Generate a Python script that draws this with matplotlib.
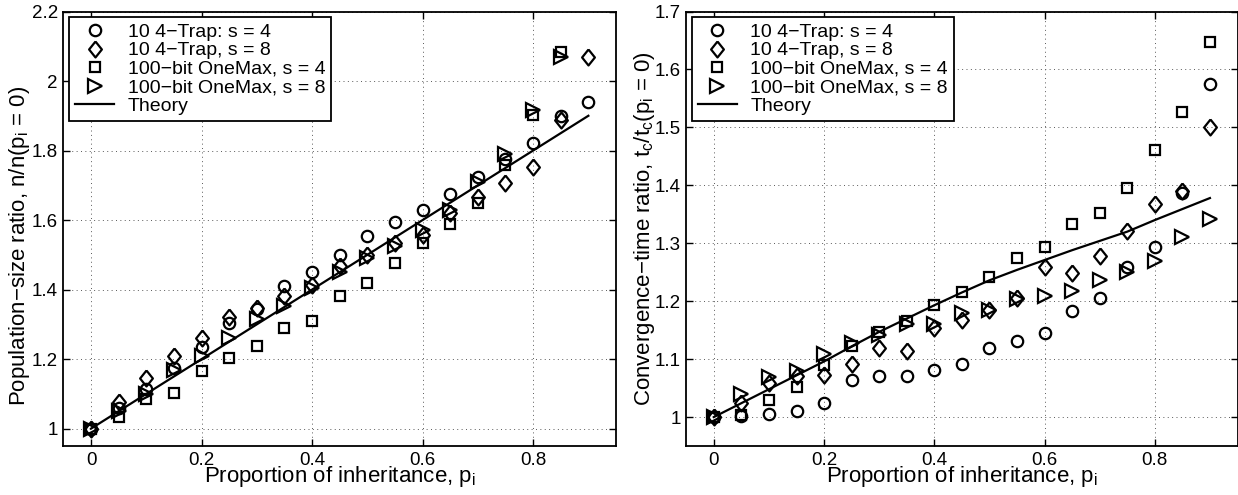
import numpy as np
import matplotlib
matplotlib.use("Agg")
import matplotlib.pyplot as plt
from matplotlib.ticker import FuncFormatter

plt.rcParams['font.family'] = ['Liberation Sans', 'DejaVu Sans']
plt.rcParams['mathtext.default'] = 'regular'

# proportion of inheritance
p_all = [0, 0.05, 0.1, 0.15, 0.2, 0.25, 0.3, 0.35, 0.4, 0.45,
         0.5, 0.55, 0.6, 0.65, 0.7, 0.75, 0.8, 0.85, 0.9]
p_short = p_all[:-1]

# left: population-size ratio
pop_trap4 = [1.0, 1.06, 1.114, 1.174, 1.236, 1.303, 1.343, 1.411, 1.452, 1.5,
             1.554, 1.595, 1.63, 1.675, 1.723, 1.775, 1.823, 1.899, 1.94]
pop_trap8 = [1.0, 1.077, 1.145, 1.208, 1.26, 1.322, 1.346, 1.381, 1.414, 1.467,
             1.5, 1.533, 1.557, 1.62, 1.667, 1.707, 1.754, 1.888, 2.069]
pop_onemax4 = [1.0, 1.034, 1.086, 1.103, 1.165, 1.203, 1.238, 1.29, 1.31, 1.381,
               1.419, 1.476, 1.533, 1.59, 1.65, 1.759, 1.902, 2.083]
pop_onemax8 = [1.0, 1.05, 1.10, 1.17, 1.21, 1.262, 1.316, 1.352, 1.405, 1.452,
               1.49, 1.526, 1.57, 1.63, 1.71, 1.79, 1.916, 2.07]
pop_theory = [1.0, 1.05, 1.1, 1.15, 1.2, 1.25, 1.3, 1.35, 1.4, 1.45,
              1.5, 1.55, 1.6, 1.65, 1.7, 1.75, 1.8, 1.85, 1.9]

# right: convergence-time ratio
tc_trap4 = [1.0, 1.002, 1.006, 1.011, 1.024, 1.064, 1.07, 1.07, 1.081, 1.092,
            1.119, 1.132, 1.145, 1.183, 1.206, 1.259, 1.294, 1.386, 1.575]
tc_trap8 = [1.0, 1.024, 1.058, 1.07, 1.073, 1.091, 1.12, 1.114, 1.154, 1.168,
            1.184, 1.206, 1.259, 1.248, 1.278, 1.321, 1.367, 1.391, 1.501]
tc_onemax4 = [1.0, 1.003, 1.03, 1.051, 1.09, 1.123, 1.146, 1.166, 1.194, 1.216,
              1.241, 1.275, 1.293, 1.334, 1.353, 1.396, 1.461, 1.526, 1.647]
tc_onemax8 = [1.0, 1.04, 1.069, 1.079, 1.108, 1.127, 1.142, 1.16, 1.161, 1.18,
              1.184, 1.204, 1.209, 1.218, 1.237, 1.25, 1.269, 1.311, 1.341]
tc_theory = [1.0, 1.024, 1.048, 1.072, 1.096, 1.122, 1.147, 1.17, 1.193, 1.215,
             1.236, 1.254, 1.271, 1.288, 1.304, 1.32, 1.34, 1.359, 1.378]

labels = ["10 4\u2212Trap: s = 4", "10 4\u2212Trap, s = 8",
          "100\u2212bit OneMax, s = 4", "100\u2212bit OneMax, s = 8", "Theory"]

# matlab style diamond (taller than wide)
diamond = [(0, 1), (0.8, 0), (0, -1), (-0.8, 0), (0, 1)]

W, H = 1238, 495
fig = plt.figure(figsize=(W / 100, H / 100), dpi=100)
ax1 = fig.add_axes([63.4 / W, 49 / H, 552.6 / W, 434.5 / H])
ax2 = fig.add_axes([686.3 / W, 49 / H, 551.2 / W, 434.5 / H])

mk = dict(linestyle='none', color='k', markerfacecolor='none', markeredgewidth=1.6)


def panel(ax, c4, d8, s4, t8, th, p_sq, ylim, yticks, ylabel):
    ax.plot(p_all, c4, marker='o', markersize=8.2, **mk)
    ax.plot(p_all, d8, marker=diamond, markersize=11.5, **mk)
    ax.plot(p_sq, s4, marker='s', markersize=7.2, **mk)
    ax.plot(p_sq, t8, marker='>', markersize=9.6, **mk)
    ax.plot(p_all, th, 'k-', linewidth=1.6)
    ax.set_xlim(-0.05, 0.95)
    ax.set_ylim(*ylim)
    ax.set_xticks([0, 0.2, 0.4, 0.6, 0.8])
    ax.set_yticks(yticks)
    ax.xaxis.set_major_formatter(FuncFormatter(lambda v, _: '%g' % v))
    ax.yaxis.set_major_formatter(FuncFormatter(lambda v, _: '%g' % round(v, 2)))
    ax.tick_params(direction='in', top=True, right=True, labelsize=13.5,
                   length=5, width=1, pad=4)
    ax.grid(True, color='0.35', linestyle=(0, (1, 3.5)), linewidth=0.7)
    for s in ax.spines.values():
        s.set_linewidth(1.3)
    ax.set_xlabel("Proportion of inheritance, p$_i$", fontsize=16, labelpad=-3)
    ax.set_ylabel(ylabel, fontsize=16, labelpad=-2)
    leg = ax.legend(labels, loc='upper left', fontsize=14, labelspacing=0.05,
                    handlelength=2.0, handletextpad=0.7, borderpad=0.3,
                    borderaxespad=0.3, fancybox=False, framealpha=1)
    leg.get_frame().set_edgecolor('k')
    leg.get_frame().set_linewidth(1.3)


panel(ax1, pop_trap4, pop_trap8, pop_onemax4, pop_onemax8, pop_theory, p_short,
      (0.95, 2.2), [1, 1.2, 1.4, 1.6, 1.8, 2, 2.2],
      "Population\u2212size ratio, n/n(p$_i$ = 0)")
panel(ax2, tc_trap4, tc_trap8, tc_onemax4, tc_onemax8, tc_theory, p_all,
      (0.95, 1.7), [1, 1.1, 1.2, 1.3, 1.4, 1.5, 1.6, 1.7],
      "Convergence\u2212time ratio, t$_c$/t$_c$(p$_i$ = 0)")
ax1.yaxis.set_label_coords(-0.057, 0.46)

fig.savefig("out.png", dpi=100)
